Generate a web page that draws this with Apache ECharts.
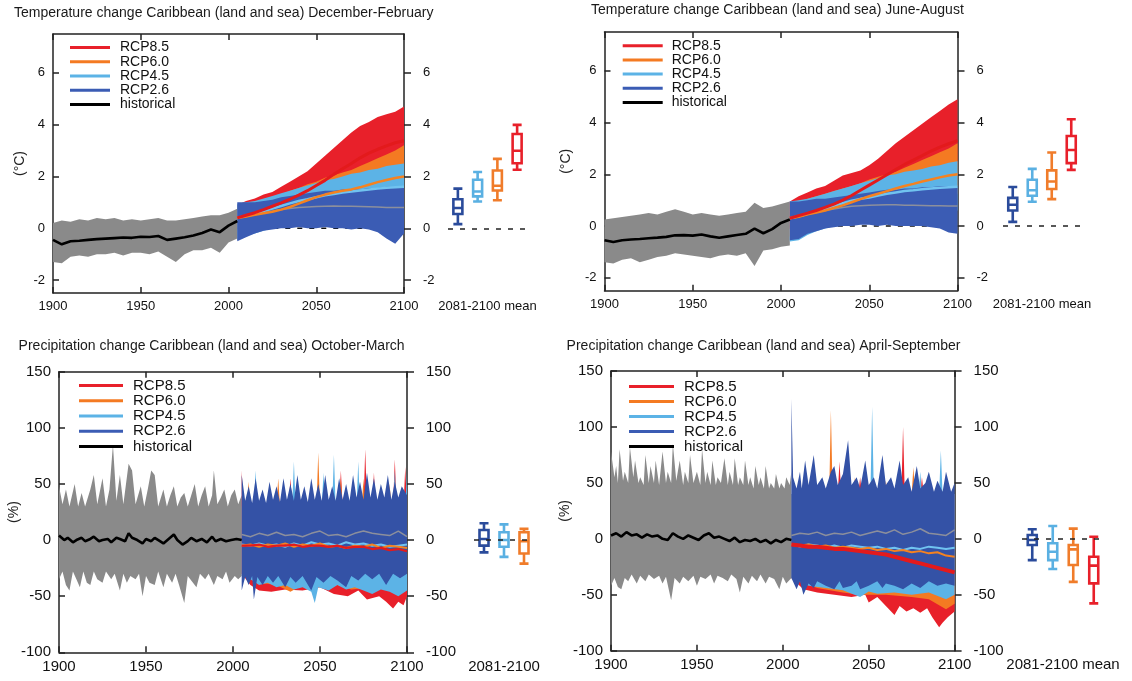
<!DOCTYPE html>
<html><head><meta charset="utf-8">
<script src="https://cdn.jsdelivr.net/npm/echarts@6/dist/echarts.min.js"></script>
<style>html,body{margin:0;padding:0;background:#fff}#c{width:1132px;height:681px}</style>
</head><body><div id="c"></div>
<script>
// ---------------- DATA ----------------
const histYears = [1900,1905,1910,1915,1920,1925,1930,1935,1940,1945,1950,1955,1960,1965,1970,1975,1980,1985,1990,1995,2000,2005];
const scenYears = [2005,2010,2015,2020,2025,2030,2035,2040,2045,2050,2055,2060,2065,2070,2075,2080,2085,2090,2095,2100];
const tempTicks = [-2,0,2,4,6];
const precipTicks = [-100,-50,0,50,100,150];
const yearTicksLabel = [1900,1950,2000,2050,2100];
const boxCats4 = ['RCP2.6','RCP4.5','RCP6.0','RCP8.5'];
const boxCats3 = ['RCP2.6','RCP4.5','RCP6.0'];

// Temperature December-February
const djfHistHi   = [0.2,0.3,0.25,0.35,0.3,0.4,0.35,0.4,0.3,0.35,0.3,0.35,0.4,0.3,0.3,0.35,0.4,0.45,0.5,0.5,0.6,0.75];
const djfHistLo   = [-1.3,-1.35,-1.1,-1.05,-1.1,-1.0,-1.0,-0.95,-1.05,-0.95,-0.95,-1.0,-0.9,-1.1,-1.3,-1.0,-0.85,-0.85,-0.75,-0.95,-0.55,-0.4];
const djfHistMean = [-0.45,-0.62,-0.5,-0.48,-0.45,-0.42,-0.4,-0.38,-0.36,-0.37,-0.33,-0.34,-0.3,-0.45,-0.4,-0.35,-0.28,-0.18,-0.05,-0.15,0.1,0.28];
const djf85Hi = [0.9,1.05,1.15,1.3,1.4,1.6,1.8,2.0,2.2,2.5,2.8,3.1,3.4,3.7,3.95,4.1,4.3,4.4,4.5,4.7];
const djf85Lo = [0.0,0.1,0.15,0.25,0.35,0.45,0.6,0.75,0.9,1.05,1.2,1.4,1.55,1.7,1.9,2.05,2.2,2.3,2.4,2.5];
const djf60Hi = [0.85,0.95,1.0,1.1,1.2,1.3,1.45,1.55,1.7,1.8,1.95,2.05,2.15,2.25,2.4,2.55,2.7,2.85,3.0,3.2];
const djf60Lo = [-0.45,-0.3,-0.15,-0.05,0.0,0.1,0.2,0.3,0.45,0.55,0.65,0.75,0.8,0.9,0.95,1.0,1.1,1.15,1.2,1.25];
const djf45Hi = [0.95,1.0,1.05,1.15,1.25,1.35,1.45,1.55,1.65,1.75,1.85,1.9,2.0,2.1,2.15,2.25,2.3,2.4,2.45,2.5];
const djf45Lo = [-0.45,-0.3,-0.2,-0.1,0.0,0.05,0.1,0.2,0.25,0.3,0.35,0.4,0.45,0.45,0.5,0.5,0.55,0.55,0.6,0.6];
const djf26Hi = [1.0,1.0,1.0,1.05,1.1,1.2,1.25,1.3,1.35,1.4,1.45,1.45,1.5,1.5,1.5,1.55,1.55,1.6,1.6,1.6];
const djf26Lo = [-0.5,-0.35,-0.2,-0.1,-0.05,0.0,0.0,0.05,0.0,0.0,0.05,0.0,0.0,-0.05,0.0,-0.05,-0.15,-0.4,-0.6,-0.2];
const djf85Mean = [0.4,0.5,0.6,0.72,0.85,0.98,1.12,1.28,1.45,1.65,1.85,2.08,2.3,2.5,2.72,2.9,3.05,3.18,3.3,3.38];
const djf60Mean = [0.4,0.45,0.52,0.58,0.64,0.72,0.82,0.95,1.08,1.2,1.3,1.38,1.45,1.5,1.58,1.68,1.78,1.86,1.94,2.0];
const djf45Mean = [0.4,0.48,0.56,0.66,0.76,0.86,0.96,1.05,1.12,1.2,1.27,1.32,1.38,1.42,1.46,1.5,1.53,1.56,1.58,1.6];
const djf26Mean = [0.4,0.45,0.52,0.6,0.66,0.72,0.76,0.8,0.82,0.84,0.85,0.86,0.85,0.85,0.84,0.83,0.82,0.8,0.8,0.8];
const djfBox = [[0.16,0.55,0.78,1.12,1.53],[1.03,1.23,1.42,1.87,2.17],[1.08,1.46,1.64,2.23,2.68],[2.26,2.51,2.99,3.64,3.99]];

// Temperature June-August
const jjaHistHi   = [0.25,0.3,0.35,0.4,0.45,0.5,0.45,0.55,0.65,0.55,0.45,0.5,0.45,0.4,0.45,0.5,0.55,0.9,0.7,0.75,0.85,0.95];
const jjaHistLo   = [-1.4,-1.45,-1.3,-1.25,-1.4,-1.3,-1.2,-1.15,-1.05,-1.1,-1.15,-1.2,-1.25,-1.15,-1.1,-1.15,-1.05,-1.55,-0.95,-0.9,-0.8,-0.75];
const jjaHistMean = [-0.55,-0.62,-0.55,-0.52,-0.5,-0.47,-0.45,-0.42,-0.36,-0.35,-0.37,-0.33,-0.4,-0.45,-0.4,-0.35,-0.3,-0.1,-0.28,-0.12,0.12,0.25];
const jja85Hi = [0.95,1.15,1.3,1.45,1.55,1.75,1.95,2.05,2.15,2.35,2.6,2.9,3.2,3.45,3.7,3.95,4.2,4.45,4.7,4.9];
const jja85Lo = [-0.1,0.0,0.1,0.2,0.3,0.45,0.6,0.75,0.9,1.05,1.25,1.4,1.55,1.7,1.85,2.0,2.15,2.25,2.35,2.4];
const jja60Hi = [0.9,0.95,1.05,1.15,1.25,1.35,1.45,1.55,1.65,1.8,1.9,2.0,2.1,2.25,2.4,2.55,2.7,2.85,3.0,3.2];
const jja60Lo = [-0.4,-0.3,-0.2,-0.1,0.0,0.1,0.25,0.35,0.45,0.55,0.65,0.75,0.85,0.9,1.0,1.05,1.1,1.15,1.2,1.25];
const jja45Hi = [0.95,1.0,1.05,1.15,1.25,1.35,1.45,1.55,1.65,1.75,1.85,1.95,2.0,2.1,2.15,2.2,2.3,2.35,2.45,2.5];
const jja45Lo = [-0.6,-0.55,-0.35,-0.2,-0.1,0.0,0.1,0.15,0.2,0.25,0.3,0.35,0.4,0.4,0.45,0.5,0.5,0.55,0.55,0.6];
const jja26Hi = [0.95,0.95,1.0,1.05,1.05,1.1,1.15,1.2,1.25,1.3,1.35,1.4,1.4,1.45,1.45,1.5,1.5,1.55,1.55,1.55];
const jja26Lo = [-0.55,-0.5,-0.3,-0.2,-0.1,-0.05,0.0,0.0,0.05,0.05,0.0,0.05,0.0,0.0,0.0,0.0,-0.05,-0.1,-0.25,-0.3];
const jja85Mean = [0.3,0.4,0.5,0.6,0.72,0.85,1.0,1.18,1.38,1.58,1.78,1.98,2.18,2.38,2.55,2.72,2.9,3.05,3.18,3.3];
const jja60Mean = [0.3,0.36,0.45,0.52,0.6,0.7,0.8,0.92,1.04,1.15,1.25,1.35,1.45,1.55,1.63,1.72,1.8,1.88,1.95,2.0];
const jja45Mean = [0.3,0.38,0.47,0.57,0.67,0.78,0.88,0.98,1.05,1.1,1.18,1.25,1.3,1.35,1.38,1.42,1.45,1.48,1.5,1.52];
const jja26Mean = [0.3,0.36,0.44,0.52,0.6,0.66,0.72,0.76,0.78,0.8,0.81,0.82,0.82,0.8,0.8,0.79,0.78,0.78,0.77,0.77];
const jjaBox = [[0.16,0.6,0.82,1.09,1.51],[0.94,1.17,1.38,1.79,2.21],[1.04,1.43,1.72,2.15,2.84],[2.17,2.43,2.94,3.48,4.13]];

// Precipitation October-March  ([year, %])
const omHistUp = [[1900,48],[1902,32],[1904,45],[1906,30],[1909,50],[1911,30],[1913,42],[1915,30],[1918,45],[1920,58],[1922,32],[1925,55],[1927,30],[1929,45],[1931,85],[1933,35],[1935,58],[1937,32],[1940,68],[1942,62],[1944,32],[1947,48],[1949,30],[1951,45],[1953,62],[1955,58],[1957,30],[1960,45],[1962,30],[1964,40],[1966,48],[1968,30],[1970,38],[1972,42],[1974,30],[1976,40],[1978,50],[1980,30],[1982,40],[1984,48],[1986,30],[1988,40],[1989,62],[1991,32],[1993,38],[1995,45],[1997,30],[1999,40],[2001,45],[2003,32],[2005,40]];
const omHistLo = [[1900,-35],[1902,-28],[1904,-40],[1906,-45],[1908,-28],[1910,-35],[1912,-42],[1914,-28],[1916,-38],[1918,-40],[1920,-28],[1922,-35],[1925,-38],[1927,-28],[1930,-35],[1932,-30],[1935,-45],[1937,-30],[1939,-38],[1941,-32],[1944,-35],[1946,-30],[1948,-50],[1950,-32],[1952,-38],[1955,-40],[1957,-28],[1960,-42],[1962,-30],[1965,-38],[1967,-30],[1969,-40],[1972,-56],[1974,-32],[1977,-38],[1979,-42],[1981,-30],[1984,-35],[1986,-30],[1989,-40],[1991,-32],[1994,-35],[1996,-28],[1998,-38],[2001,-32],[2003,-35],[2005,-32]];
const omHistMean = [[1900,4],[1903,0],[1905,2],[1908,-2],[1910,0],[1913,2],[1915,-1],[1918,1],[1920,3],[1923,-1],[1925,0],[1928,1],[1930,-2],[1933,2],[1935,1],[1938,-1],[1940,6],[1942,2],[1945,0],[1948,-3],[1950,1],[1953,-1],[1955,2],[1958,-1],[1960,-3],[1963,1],[1966,5],[1968,0],[1971,-4],[1974,-1],[1976,2],[1979,-1],[1982,1],[1985,-2],[1988,3],[1990,-1],[1993,1],[1996,-1],[1999,0],[2002,1],[2005,0]];
const om26Up = [[2005,58],[2007,35],[2009,48],[2011,33],[2013,55],[2015,35],[2017,45],[2019,33],[2021,52],[2023,36],[2025,48],[2027,34],[2029,55],[2031,36],[2033,50],[2035,35],[2037,58],[2039,36],[2041,48],[2043,34],[2045,55],[2047,36],[2049,50],[2051,35],[2053,58],[2055,36],[2057,48],[2059,35],[2061,55],[2063,36],[2065,50],[2067,35],[2069,58],[2071,38],[2073,52],[2075,36],[2077,60],[2079,38],[2081,55],[2083,36],[2085,50],[2087,38],[2089,58],[2091,36],[2093,52],[2095,38],[2097,48],[2100,40]];
const om26Lo = [[2005,-45],[2007,-33],[2009,-40],[2011,-32],[2012,-53],[2014,-33],[2017,-40],[2020,-32],[2023,-38],[2026,-32],[2030,-42],[2033,-33],[2036,-38],[2040,-32],[2045,-45],[2048,-33],[2052,-38],[2056,-32],[2060,-36],[2065,-42],[2068,-32],[2072,-36],[2076,-30],[2080,-35],[2084,-30],[2088,-40],[2092,-30],[2096,-34],[2100,-30]];
const om45Up = [[2005,30],[2012,30],[2013,62],[2014,30],[2034,30],[2035,70],[2036,30],[2051,30],[2052,60],[2053,30],[2057,30],[2058,76],[2059,30],[2071,30],[2072,70],[2073,30],[2092,30],[2093,62],[2094,30],[2099,30],[2100,60]];
const om45Lo = [[2005,-30],[2010,-35],[2015,-40],[2020,-38],[2025,-42],[2030,-40],[2035,-44],[2040,-42],[2045,-46],[2047,-56],[2049,-42],[2055,-45],[2060,-40],[2065,-44],[2070,-42],[2075,-45],[2080,-48],[2085,-44],[2090,-46],[2095,-50],[2100,-45]];
const om60Up = [[2005,30],[2008,30],[2009,52],[2010,30],[2025,30],[2026,55],[2027,30],[2048,30],[2049,78],[2050,30],[2061,30],[2062,55],[2063,30],[2074,30],[2075,55],[2076,30],[2089,30],[2090,50],[2091,30],[2100,30]];
const om60Lo = [[2005,-30],[2015,-38],[2025,-40],[2033,-46],[2040,-40],[2050,-42],[2060,-40],[2068,-44],[2080,-42],[2090,-44],[2100,-42]];
const om85Up = [[2005,62],[2006,30],[2032,30],[2033,55],[2034,30],[2061,30],[2062,62],[2063,30],[2075,30],[2076,81],[2077,30],[2080,30],[2081,60],[2082,30],[2092,30],[2093,72],[2094,30],[2098,30],[2099,65],[2100,30]];
const om85Lo = [[2005,-30],[2010,-40],[2015,-45],[2022,-46],[2030,-44],[2040,-45],[2050,-42],[2058,-48],[2066,-50],[2072,-45],[2077,-53],[2084,-50],[2088,-55],[2092,-61],[2095,-55],[2098,-58],[2100,-50]];
const om26Mean = [[2005,5],[2010,3],[2015,6],[2020,4],[2025,7],[2030,4],[2035,5],[2040,3],[2045,6],[2050,8],[2055,4],[2060,5],[2065,3],[2070,6],[2075,8],[2080,6],[2085,5],[2090,4],[2095,8],[2100,3]];
const om45Mean = [[2005,-4],[2010,-5],[2015,-3],[2020,-5],[2025,-4],[2030,-6],[2035,-3],[2040,-5],[2045,-2],[2050,-4],[2055,-3],[2060,-5],[2065,-2],[2070,-4],[2075,-3],[2080,-5],[2085,-4],[2090,-6],[2095,-5],[2100,-4]];
const om60Mean = [[2005,-5],[2010,-4],[2015,-6],[2020,-4],[2025,-5],[2030,-3],[2035,-6],[2040,-4],[2045,-5],[2050,-3],[2055,-6],[2060,-5],[2065,-7],[2070,-5],[2075,-6],[2080,-4],[2085,-7],[2090,-5],[2095,-6],[2100,-7]];
const om85Mean = [[2005,-5],[2010,-5],[2015,-4],[2020,-6],[2025,-5],[2030,-5],[2035,-4],[2040,-6],[2045,-5],[2050,-5],[2055,-6],[2060,-5],[2065,-7],[2070,-6],[2075,-6],[2080,-8],[2085,-7],[2090,-9],[2095,-8],[2100,-10]];
const omBox = [[-11,-5,1,9,15],[-15,-6,0,7,14],[-21,-12,-1,7,10]];

// Precipitation April-September ([year, %])
const asHistUp = [[1900,78],[1902,55],[1903,65],[1904,50],[1905,80],[1907,52],[1908,60],[1910,50],[1911,82],[1913,55],[1914,70],[1916,50],[1917,55],[1919,48],[1920,75],[1922,50],[1923,65],[1925,50],[1926,70],[1928,48],[1930,78],[1932,50],[1933,60],[1935,50],[1936,85],[1938,52],[1940,70],[1942,48],[1943,60],[1945,50],[1946,75],[1948,50],[1950,60],[1952,48],[1953,80],[1955,50],[1956,60],[1958,48],[1959,70],[1961,48],[1962,55],[1964,50],[1966,72],[1968,48],[1969,60],[1971,48],[1972,72],[1974,48],[1975,55],[1977,48],[1978,70],[1980,48],[1981,55],[1983,45],[1984,65],[1986,48],[1987,55],[1989,45],[1990,65],[1992,45],[1993,50],[1995,45],[1996,58],[1998,45],[1999,50],[2001,45],[2002,55],[2004,48],[2005,60]];
const asHistLo = [[1900,-42],[1902,-35],[1904,-43],[1906,-45],[1908,-35],[1910,-38],[1912,-32],[1915,-40],[1917,-33],[1920,-38],[1922,-32],[1925,-36],[1928,-33],[1930,-40],[1932,-34],[1935,-55],[1937,-35],[1940,-40],[1942,-34],[1945,-38],[1948,-33],[1950,-42],[1952,-34],[1955,-36],[1958,-32],[1960,-40],[1962,-33],[1965,-35],[1968,-38],[1970,-32],[1973,-36],[1975,-48],[1977,-34],[1980,-40],[1982,-33],[1985,-38],[1987,-32],[1990,-40],[1992,-34],[1995,-36],[1998,-45],[2000,-34],[2002,-40],[2005,-35]];
const asHistMean = [[1900,3],[1903,5],[1906,2],[1909,6],[1912,3],[1915,4],[1918,1],[1921,4],[1924,2],[1927,3],[1930,0],[1933,-1],[1936,5],[1939,2],[1942,0],[1945,3],[1948,1],[1951,-1],[1954,3],[1957,5],[1960,1],[1963,2],[1966,0],[1969,-2],[1972,1],[1975,-3],[1978,-1],[1981,-2],[1984,0],[1987,-3],[1990,-1],[1993,-4],[1996,-1],[1999,-3],[2002,0],[2005,-1]];
const as26Up = [[2005,125],[2006,55],[2008,45],[2010,60],[2011,45],[2013,70],[2015,48],[2018,75],[2020,48],[2023,55],[2025,45],[2028,60],[2030,65],[2032,48],[2035,58],[2038,88],[2040,48],[2043,55],[2045,45],[2048,70],[2050,48],[2053,55],[2055,45],[2058,75],[2060,48],[2063,55],[2065,45],[2068,70],[2070,48],[2073,55],[2075,42],[2078,65],[2080,45],[2083,50],[2085,60],[2088,42],[2090,52],[2093,42],[2095,60],[2098,42],[2100,50]];
const as26Lo = [[2005,-35],[2008,-45],[2010,-38],[2012,-50],[2015,-40],[2018,-44],[2020,-38],[2025,-42],[2030,-45],[2033,-38],[2035,-44],[2040,-42],[2043,-38],[2045,-45],[2050,-42],[2055,-38],[2058,-44],[2060,-40],[2065,-42],[2070,-45],[2075,-40],[2080,-44],[2085,-38],[2090,-42],[2095,-40],[2100,-42]];
const as45Up = [[2005,40],[2051,40],[2052,118],[2053,40],[2079,40],[2080,60],[2081,40],[2091,40],[2092,79],[2093,40],[2100,40]];
const as45Lo = [[2005,-35],[2015,-42],[2025,-44],[2035,-46],[2045,-52],[2050,-47],[2055,-49],[2065,-48],[2075,-50],[2085,-48],[2095,-54],[2100,-50]];
const as60Up = [[2005,40],[2027,40],[2028,115],[2029,40],[2041,40],[2042,55],[2043,40],[2059,40],[2060,52],[2061,40],[2075,40],[2076,64],[2077,40],[2100,40]];
const as60Lo = [[2005,-35],[2020,-44],[2035,-48],[2045,-50],[2060,-50],[2075,-52],[2085,-54],[2095,-63],[2100,-58]];
const as85Up = [[2005,40],[2017,40],[2018,55],[2019,40],[2032,40],[2033,69],[2034,40],[2044,40],[2045,55],[2046,40],[2069,40],[2070,100],[2071,40],[2080,40],[2081,55],[2082,40],[2100,40]];
const as85Lo = [[2005,-35],[2012,-45],[2020,-48],[2030,-50],[2040,-52],[2048,-50],[2050,-57],[2055,-52],[2060,-60],[2065,-68],[2068,-60],[2072,-65],[2076,-62],[2080,-66],[2084,-62],[2087,-70],[2091,-79],[2093,-75],[2096,-70],[2100,-65]];
const as26Mean = [[2005,3],[2010,5],[2015,4],[2020,6],[2025,3],[2030,5],[2035,4],[2040,6],[2045,3],[2050,5],[2055,7],[2060,5],[2065,8],[2070,4],[2075,6],[2080,9],[2085,5],[2090,4],[2095,3],[2100,8]];
const as45Mean = [[2005,-5],[2010,-7],[2015,-5],[2020,-6],[2025,-8],[2030,-6],[2035,-8],[2040,-6],[2045,-7],[2050,-8],[2055,-7],[2060,-9],[2065,-8],[2070,-10],[2075,-8],[2080,-9],[2085,-7],[2090,-8],[2095,-9],[2100,-8]];
const as60Mean = [[2005,-5],[2010,-6],[2015,-5],[2020,-7],[2025,-6],[2030,-8],[2035,-7],[2040,-8],[2045,-9],[2050,-8],[2055,-10],[2060,-9],[2065,-11],[2070,-10],[2075,-12],[2080,-11],[2085,-13],[2090,-12],[2095,-15],[2100,-16]];
const as85Mean = [[2005,-5],[2010,-6],[2015,-7],[2020,-7],[2025,-8],[2030,-9],[2035,-9],[2040,-10],[2045,-11],[2050,-12],[2055,-13],[2060,-14],[2065,-16],[2070,-18],[2075,-20],[2080,-22],[2085,-24],[2090,-26],[2095,-28],[2100,-30]];
const asBox = [[-19,-5.5,-1,3.4,8.5],[-27,-19,-11.5,-4,11.4],[-38.5,-23.4,-9.4,-5.5,9.1],[-57.7,-39.8,-24,-16,1.9]];

// ---------------- STYLE ----------------
const FONT = '"Liberation Sans", Arial, Helvetica, sans-serif';
const COL = {r85:'#e8202a', r60:'#f47a22', r45:'#5cb3e6', r26p:'#3452a6', r26t:'#3b5cb4', hist:'#8a8a8a', black:'#000'};
const BOXCOL = ['#2a4b9b','#5ab0e2','#f07c2a','#e8202a'];
const zip = (xs, ys) => xs.map((x, i) => [x, ys[i]]);

const panels = [
  {kind:'temp', title:'Temperature change Caribbean (land and sea) December-February', tl:14, tt:6,
   grid:{left:53, top:34, width:351, height:259}, box:{left:448, width:79}, cats:boxCats4, boxes:djfBox,
   lg:{left:70, top:40.5, w:40, pad:5, fs:14, lh:14.2}, yName:'(°C)', nameGap:26, fs:13, boxLabel:'2081-2100 mean',
   histUp:zip(histYears,djfHistHi), histLo:zip(histYears,djfHistLo), histMean:zip(histYears,djfHistMean),
   up:[zip(scenYears,djf85Hi),zip(scenYears,djf60Hi),zip(scenYears,djf45Hi),zip(scenYears,djf26Hi)],
   lo:[zip(scenYears,djf85Lo),zip(scenYears,djf60Lo),zip(scenYears,djf45Lo),zip(scenYears,djf26Lo)],
   mean:[zip(scenYears,djf85Mean),zip(scenYears,djf60Mean),zip(scenYears,djf45Mean),zip(scenYears,djf26Mean)]},
  {kind:'temp', title:'Temperature change Caribbean (land and sea) June-August', tl:591, tt:3,
   grid:{left:604.5, top:32, width:353, height:258.7}, box:{left:1003, width:78}, cats:boxCats4, boxes:jjaBox,
   lg:{left:622.7, top:38.6, w:40, pad:4, fs:14, lh:14.2}, yName:'(°C)', nameGap:31, fs:13, boxLabel:'2081-2100 mean',
   histUp:zip(histYears,jjaHistHi), histLo:zip(histYears,jjaHistLo), histMean:zip(histYears,jjaHistMean),
   up:[zip(scenYears,jja85Hi),zip(scenYears,jja60Hi),zip(scenYears,jja45Hi),zip(scenYears,jja26Hi)],
   lo:[zip(scenYears,jja85Lo),zip(scenYears,jja60Lo),zip(scenYears,jja45Lo),zip(scenYears,jja26Lo)],
   mean:[zip(scenYears,jja85Mean),zip(scenYears,jja60Mean),zip(scenYears,jja45Mean),zip(scenYears,jja26Mean)]},
  {kind:'precip', title:'Precipitation change Caribbean (land and sea) October-March', tl:18.6, tt:339,
   grid:{left:59, top:371.7, width:348, height:280.6}, box:{left:474, width:60}, cats:boxCats3, boxes:omBox,
   lg:{left:79, top:378, w:44, pad:5, fs:15, lh:15.2}, yName:'(%)', nameGap:38, fs:15, boxLabel:'2081-2100',
   histUp:omHistUp, histLo:omHistLo, histMean:omHistMean,
   up:[om85Up,om60Up,om45Up,om26Up], lo:[om85Lo,om60Lo,om45Lo,om26Lo], mean:[om85Mean,om60Mean,om45Mean,om26Mean]},
  {kind:'precip', title:'Precipitation change Caribbean (land and sea) April-September', tl:566.6, tt:339,
   grid:{left:611, top:371, width:343.6, height:279.7}, box:{left:1022, width:82}, cats:boxCats4, boxes:asBox,
   lg:{left:629, top:379, w:45, pad:5, fs:15, lh:15}, yName:'(%)', nameGap:38.5, fs:15, boxLabel:'2081-2100 mean',
   histUp:asHistUp, histLo:asHistLo, histMean:asHistMean,
   up:[as85Up,as60Up,as45Up,as26Up], lo:[as85Lo,as60Lo,as45Lo,as26Lo], mean:[as85Mean,as60Mean,as45Mean,as26Mean]}
];

// ---------------- BUILD ----------------
const option = {animation:false, backgroundColor:'#fff', title:[], legend:[], grid:[], xAxis:[], yAxis:[], series:[]};
const AX = '#222';

function band(name, color, upper, lower, xi, yi, z) {
  const ring = upper.concat(lower.slice().reverse());
  return {type:'custom', name, xAxisIndex:xi, yAxisIndex:yi, silent:true, z:z||2,
    itemStyle:{color}, data:ring, encode:{x:0, y:1},
    renderItem:(params, api) => params.dataIndex !== 0 ? null :
      {type:'polygon', shape:{points:ring.map(p => api.coord(p))}, style:{fill:color}}};
}
function line(name, color, width, data, xi, yi, extra) {
  return Object.assign({type:'line', name, xAxisIndex:xi, yAxisIndex:yi, data, symbol:'none', showSymbol:false,
    silent:true, z:4, itemStyle:{color}, lineStyle:{color, width}}, extra || {});
}

panels.forEach((p, i) => {
  const temp = p.kind === 'temp';
  const ymin = temp ? -2.5 : -100, ymax = temp ? 7.5 : 150;
  const ticks = temp ? tempTicks : precipTicks;
  const gMain = 2*i, gBox = 2*i+1;
  const xi = 3*i, yi = 3*i;
  option.title.push({text:p.title, left:p.tl, top:p.tt, padding:0,
    textStyle:{fontSize:14, fontWeight:'normal', color:'#1a1a1a', fontFamily:FONT}});
  option.grid.push(Object.assign({}, p.grid));
  option.grid.push({left:p.box.left, width:p.box.width, top:p.grid.top, height:p.grid.height});
  const lblStyle = {color:'#111', fontSize:p.fs, fontFamily:FONT};
  // x axes
  option.xAxis.push({gridIndex:gMain, type:'value', min:1900, max:2100, interval:50, position:'bottom',
    axisLine:{onZero:false, lineStyle:{color:AX, width:1.5}}, axisTick:{inside:true, length:6, lineStyle:{color:AX, width:1.5}},
    axisLabel:Object.assign({margin:7, formatter:v => String(v), customValues:yearTicksLabel}, lblStyle), splitLine:{show:false}});
  option.xAxis.push({gridIndex:gMain, type:'value', min:1900, max:2100, interval:50, position:'top',
    axisLine:{onZero:false, lineStyle:{color:AX, width:1.5}}, axisTick:{inside:true, length:6, lineStyle:{color:AX, width:1.5}},
    axisLabel:{show:false}, splitLine:{show:false}});
  option.xAxis.push({gridIndex:gBox, type:'category', data:p.cats, boundaryGap:true,
    axisLine:{show:false, onZero:false}, axisTick:{show:false}, axisLabel:{show:false}, splitLine:{show:false},
    name:p.boxLabel, nameLocation:'middle', nameGap:7, nameMoveOverlap:false,
    nameTextStyle:Object.assign({verticalAlign:'top'}, lblStyle)});
  // y axes
  option.yAxis.push({gridIndex:gMain, type:'value', min:ymin, max:ymax, position:'left',
    axisLine:{show:true, onZero:false, lineStyle:{color:AX, width:1.5}},
    axisTick:{show:true, inside:true, length:6, customValues:ticks, lineStyle:{color:AX, width:1.5}},
    axisLabel:Object.assign({margin:8, customValues:ticks}, lblStyle), splitLine:{show:false},
    name:p.yName, nameLocation:'middle', nameRotate:90, nameGap:p.nameGap, nameMoveOverlap:false,
    nameTextStyle:{color:'#222', fontSize:14, fontFamily:FONT}});
  option.yAxis.push({gridIndex:gMain, type:'value', min:ymin, max:ymax, position:'right',
    axisLine:{show:true, onZero:false, lineStyle:{color:AX, width:1.5}},
    axisTick:{show:true, inside:false, length:7, customValues:ticks, lineStyle:{color:AX, width:1.5}},
    axisLabel:Object.assign({margin:19, customValues:ticks}, lblStyle), splitLine:{show:false}});
  option.yAxis.push({gridIndex:gBox, type:'value', min:ymin, max:ymax, show:false});

  // legend
  option.legend.push({orient:'vertical', left:p.lg.left, top:p.lg.top, padding:0, itemGap:0,
    itemWidth:p.lg.w, itemHeight:3, icon:'rect', selectedMode:false,
    data:['RCP8.5','RCP6.0','RCP4.5','RCP2.6','historical'],
    textStyle:{fontSize:p.lg.fs, lineHeight:p.lg.lh, color:'#111', fontFamily:FONT, padding:[0,0,0,p.lg.pad]}});

  // series (drawing order)
  const S = option.series;
  if (temp) S.push(line('', '#111', 1.5, [[2005,0],[2100,0]], xi, yi, {z:1, lineStyle:{color:'#111', width:1.5, type:[5,7]}}));
  S.push(band('histBand', COL.hist, p.histUp, p.histLo, xi, yi));
  const names = ['RCP8.5','RCP6.0','RCP4.5','RCP2.6'];
  const cols = [COL.r85, COL.r60, COL.r45, temp ? COL.r26t : COL.r26p];
  for (let k = 0; k < 4; k++) S.push(band(names[k], cols[k], p.up[k], p.lo[k], xi, yi));
  S.push(line('historical', COL.black, 2.6, p.histMean, xi, yi, {z:5}));
  S.push(line('', '#8c8f9c', 1.5, p.mean[3], xi, yi));
  S.push(line('', '#70c3f0', temp ? 2.5 : 2, p.mean[2], xi, yi));
  S.push(line('', '#f58220', temp ? 2.5 : 2, p.mean[1], xi, yi));
  S.push(line('', '#e31a1c', temp ? 3 : (i === 3 ? 4 : 2.2), p.mean[0], xi, yi));

  // zero dashed line in box panel + box plots
  S.push({type:'line', xAxisIndex:3*i+2, yAxisIndex:3*i+2, data:[], z:1, silent:true,
    markLine:{symbol:'none', silent:true, label:{show:false}, lineStyle:{color:'#222', width:1.5, type:[5,7]}, data:[{yAxis:0}]}});
  S.push({type:'boxplot', xAxisIndex:3*i+2, yAxisIndex:3*i+2, boxWidth:[9,9], z:3, silent:true,
    itemStyle:{color:'#fff', borderWidth:2.6},
    data:p.boxes.map((v, k) => ({value:v, itemStyle:{color:'#fff', borderColor:BOXCOL[k], borderWidth:2.6}}))});
});

const chart = echarts.init(document.getElementById('c'), null, {renderer:'canvas'});
chart.setOption(option);
</script></body></html>
